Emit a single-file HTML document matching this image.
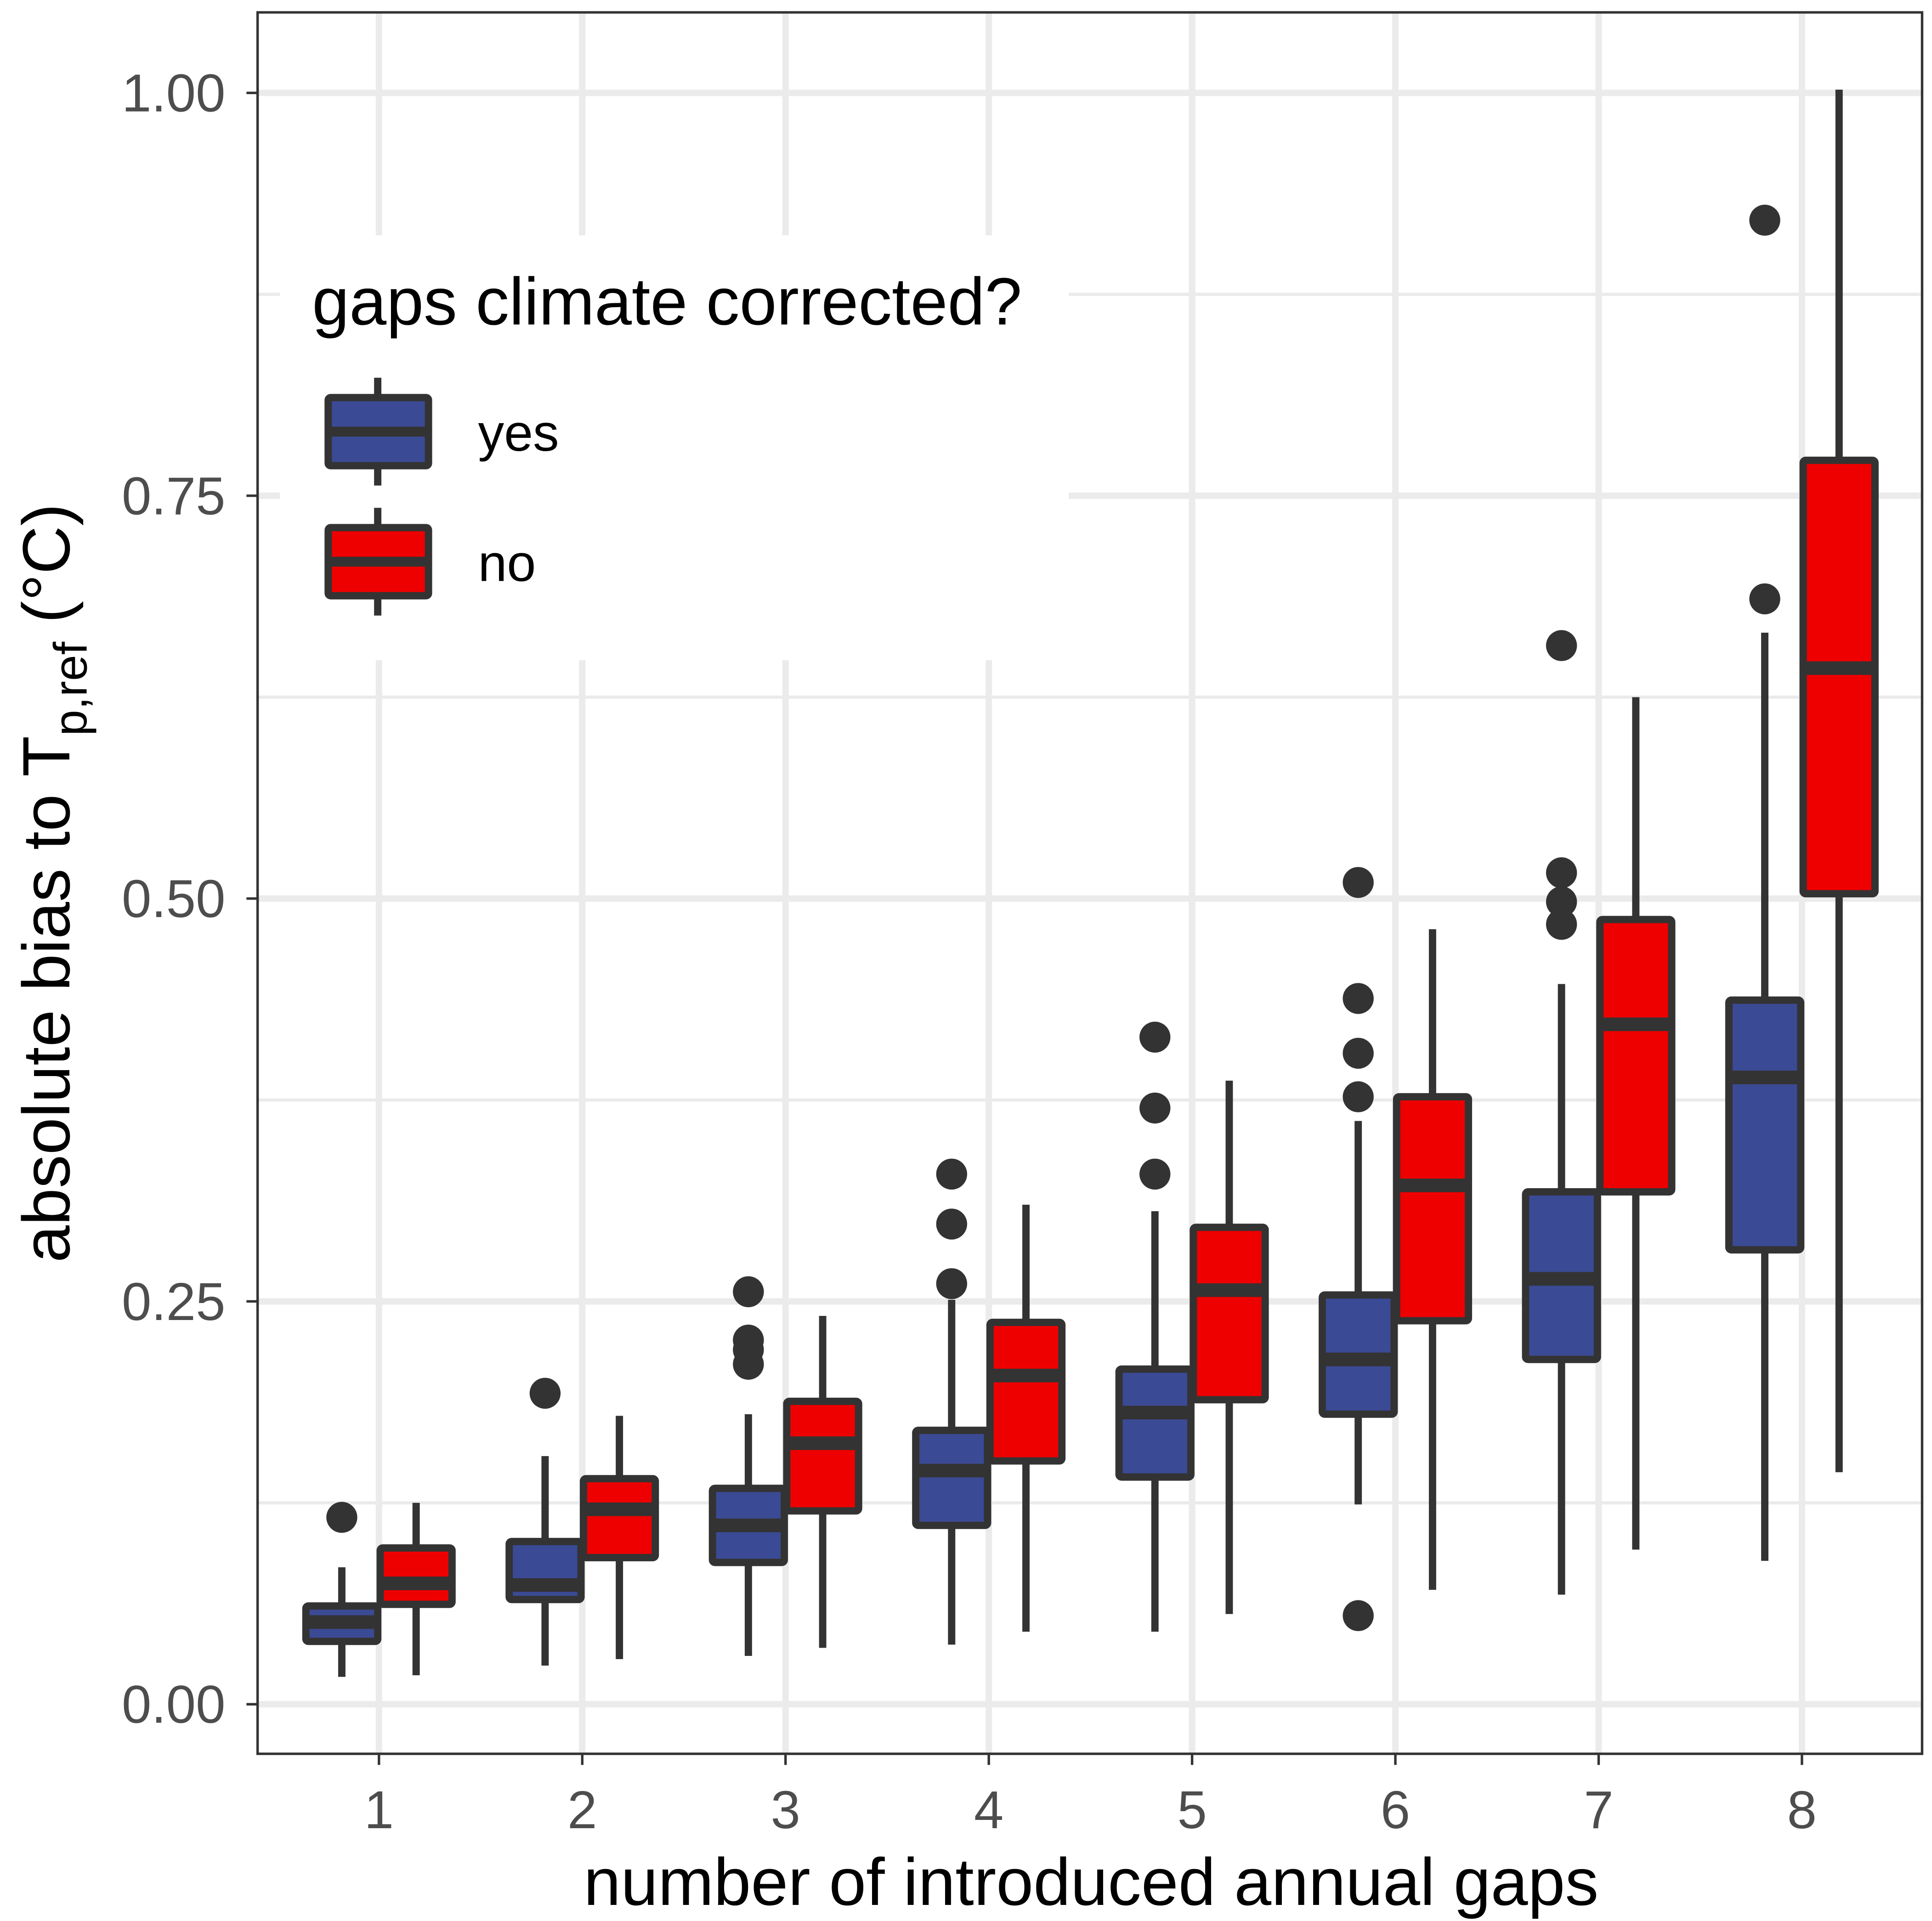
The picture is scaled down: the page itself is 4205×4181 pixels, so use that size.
<!DOCTYPE html>
<html><head><meta charset="utf-8"><style>
html,body{margin:0;padding:0;background:#fff}
svg{display:block}
text{font-family:"Liberation Sans",Arial,sans-serif}
</style></head><body>
<svg id="chart" width="4205" height="4181" viewBox="0 0 1560 1551" preserveAspectRatio="none" xmlns="http://www.w3.org/2000/svg">
<rect x="0" y="0" width="1560" height="1551" fill="#fff"/>
<g id="grid"></g>
<g id="legendbg"></g>
<g id="boxes"></g>
<rect x="208" y="10" width="1344" height="1406" fill="none" stroke="#333" stroke-width="2"/>
<g id="axes"></g>
<text x="881" y="1538" font-size="54" text-anchor="middle" fill="#000">number of introduced annual gaps</text>
<text transform="translate(56,713) rotate(-90)" font-size="54" text-anchor="middle" fill="#000">absolute bias to T<tspan font-size="38" dy="14">p,ref</tspan><tspan dy="-14"> (°C)</tspan></text>
<g id="legend"></g>
</svg>
<script>
const categories = [1,2,3,4,5,6,7,8];
const yTicks = [0, 0.25, 0.5, 0.75, 1.0];
const yTickLabels = ["0.00","0.25","0.50","0.75","1.00"];
const yesLow = [0.017,0.024,0.030,0.037,0.045,0.124,0.068,0.089];
const yesQ1 = [0.039,0.065,0.088,0.111,0.141,0.180,0.214,0.282];
const yesMed = [0.051,0.074,0.111,0.145,0.181,0.214,0.264,0.389];
const yesQ3 = [0.061,0.101,0.134,0.170,0.208,0.254,0.318,0.437];
const yesHigh = [0.085,0.154,0.180,0.251,0.306,0.362,0.447,0.665];
const yesOut = [[0.116],[0.193],[0.256,0.226,0.220,0.211],[0.261,0.298,0.329],[0.329,0.370,0.414],[0.377,0.404,0.438,0.510,0.055],[0.484,0.498,0.516,0.657],[0.686,0.921]];
const noLow = [0.018,0.028,0.035,0.045,0.056,0.071,0.096,0.144];
const noQ1 = [0.062,0.091,0.120,0.151,0.189,0.238,0.318,0.503];
const noMed = [0.075,0.121,0.162,0.204,0.257,0.322,0.422,0.643];
const noQ3 = [0.097,0.140,0.188,0.237,0.296,0.377,0.487,0.772];
const noHigh = [0.125,0.179,0.241,0.310,0.387,0.481,0.625,1.002];
const noOut = [[],[],[],[],[],[],[],[]];

const NS="http://www.w3.org/2000/svg";
const X0=208,X1=1552,Y0=10,Y1=1416;
function xs(c){return 306+(c-1)*164.14;}
function ys(v){return 1376-v*1301;}
const BW=58, OFF=30;
function mk(parent,tag,attrs){const e=document.createElementNS(NS,tag);for(const k in attrs)e.setAttribute(k,attrs[k]);document.getElementById(parent).appendChild(e);return e;}

for(let i=0;i<yTicks.length-1;i++){const v=(yTicks[i]+yTicks[i+1])/2;const l=mk('grid','line',{x1:X0,x2:X1,y1:ys(v),y2:ys(v),stroke:'#ebebeb','stroke-width':2.6});

}
yTicks.forEach(v=>{const l=mk('grid','line',{x1:X0,x2:X1,y1:ys(v),y2:ys(v),stroke:'#ebebeb','stroke-width':5.2});

});
categories.forEach(c=>{const l=mk('grid','line',{x1:xs(c),x2:xs(c),y1:Y0,y2:Y1,stroke:'#ebebeb','stroke-width':5.2});

});

const lb=mk('legendbg','rect',{x:226,y:190,width:637,height:343,fill:'#fff'});



function drawBox(cx,lo,q1,md,q3,hi,outs,fill,name){
  const w1=mk('boxes','line',{x1:cx,x2:cx,y1:ys(hi),y2:ys(lo),stroke:'#333','stroke-width':5.9});
  
  
  const r=mk('boxes','rect',{x:cx-BW/2,y:ys(q3),width:BW,height:ys(q1)-ys(q3),fill:fill,stroke:'#333','stroke-width':5.9,rx:2});
  
  
  const m=mk('boxes','line',{x1:cx-BW/2,x2:cx+BW/2,y1:ys(md),y2:ys(md),stroke:'#333','stroke-width':11});
  
  
  outs.forEach(o=>{const p=mk('boxes','circle',{cx:cx,cy:ys(o),r:12.5,fill:'#333'});
  
  });
}
categories.forEach((c,i)=>{
  drawBox(xs(c)-OFF,yesLow[i],yesQ1[i],yesMed[i],yesQ3[i],yesHigh[i],yesOut[i],'#3b4a94','yes-'+c);
  drawBox(xs(c)+OFF,noLow[i],noQ1[i],noMed[i],noQ3[i],noHigh[i],noOut[i],'#ee0000','no-'+c);
});

yTicks.forEach((v,i)=>{const t=mk('axes','line',{x1:X0-9,x2:X0,y1:ys(v),y2:ys(v),stroke:'#333','stroke-width':2});


const tx=mk('axes','text',{x:X0-26,y:ys(v)+15,'font-size':43,'text-anchor':'end',fill:'#4d4d4d'});tx.textContent=yTickLabels[i];

});
categories.forEach(c=>{const t=mk('axes','line',{x1:xs(c),x2:xs(c),y1:Y1,y2:Y1+9,stroke:'#333','stroke-width':2});


const tx=mk('axes','text',{x:xs(c),y:1476,'font-size':43,'text-anchor':'middle',fill:'#4d4d4d'});tx.textContent=String(c);

});

const lt=mk('legend','text',{x:252,y:262,'font-size':54,fill:'#000'});lt.textContent='gaps climate corrected?';


[['yes','#3b4a94',321],['no','#ee0000',426]].forEach(([lab,col,top])=>{
  const w=mk('legend','line',{x1:305,x2:305,y1:top-16,y2:top+71,stroke:'#333','stroke-width':5.9});
  
  
  const r=mk('legend','rect',{x:265,y:top,width:81,height:55,fill:col,stroke:'#333','stroke-width':5.9,rx:2});
  
  
  const m=mk('legend','line',{x1:265,x2:346,y1:top+27.5,y2:top+27.5,stroke:'#333','stroke-width':8});
  
  
  const t=mk('legend','text',{x:386,y:top+43,'font-size':42,fill:'#000'});t.textContent=lab;
  
  
});
</script>
</body></html>
